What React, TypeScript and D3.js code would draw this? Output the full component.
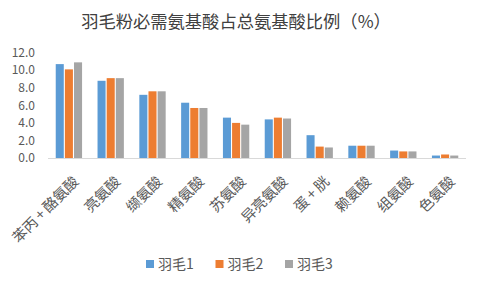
import React from 'react';
import * as d3 from 'd3';

const categories = ['苯丙+酪氨酸', '亮氨酸', '缬氨酸', '精氨酸', '苏氨酸', '异亮氨酸', '蛋+胱', '赖氨酸', '组氨酸', '色氨酸'];
const seriesNames = ['羽毛1', '羽毛2', '羽毛3'];
const feather1 = [10.7, 8.8, 7.2, 6.3, 4.6, 4.4, 2.6, 1.4, 0.85, 0.28];
const feather2 = [10.1, 9.1, 7.6, 5.7, 4.0, 4.6, 1.3, 1.4, 0.75, 0.4];
const feather3 = [10.9, 9.1, 7.6, 5.7, 3.8, 4.5, 1.2, 1.4, 0.75, 0.28];
const yTicks = [0, 2, 4, 6, 8, 10, 12];
const colors = ['#5B9BD5', '#ED7D31', '#A5A5A5'];

const W = 480;
const H = 288;
const font = '"Noto Sans CJK SC", "Noto Sans", sans-serif';

const App = () => {
  const series = [feather1, feather2, feather3];
  const margin = { left: 48, right: 14, top: 52.7, bottom: 130 };

  const x = d3.scaleBand<string>()
    .domain(categories)
    .range([margin.left, W - margin.right]);
  const groupW = x.bandwidth() * 0.63;
  const inner = d3.scaleBand<string>()
    .domain(seriesNames)
    .range([(x.bandwidth() - groupW) / 2, (x.bandwidth() + groupW) / 2])
    .paddingInner(0.12);
  const y = d3.scaleLinear().domain([0, 12]).range([H - margin.bottom, margin.top]);

  const legendX = d3.scalePoint<string>().domain(seriesNames).range([146, 285]);

  return (
    <svg width={W} height={H} style={{ position: 'absolute', left: 0, top: 0, background: '#fff' }}>
      <text x={236} y={28} textAnchor="middle" fontSize={17.3} fill="#404040" fontFamily={font}>
        羽毛粉必需氨基酸占总氨基酸比例（%）
      </text>
      {yTicks.map(t => (
        <text key={t} x={35} y={y(t)} dy="0.35em" textAnchor="end" fontSize={12} fill="#595959" fontFamily={font}>
          {t.toFixed(1)}
        </text>
      ))}
      {categories.map((c, i) => (
        <g key={c} transform={`translate(${x(c)},0)`}>
          {series.map((s, k) => (
            <rect
              key={k}
              x={inner(seriesNames[k])}
              y={y(s[i])}
              width={inner.bandwidth()}
              height={y(0) - y(s[i])}
              fill={colors[k]}
            />
          ))}
        </g>
      ))}
      <line x1={margin.left} x2={W - margin.right} y1={y(0) + 0.5} y2={y(0) + 0.5} stroke="#D9D9D9" strokeWidth={1} />
      {categories.map(c => (
        <text
          key={c}
          transform={`translate(${(x(c) as number) + x.bandwidth() / 2 + 7},${y(0) + 21}) rotate(-45)`}
          textAnchor="end"
          dy="0.35em"
          fontSize={14.5}
          fill="#595959"
          fontFamily={font}
        >
          {c.replace('+', '\u2009+\u2009')}
        </text>
      ))}
      {seriesNames.map((n, k) => (
        <g key={n} transform={`translate(${legendX(n)},264)`}>
          <rect x={0} y={-4} width={8} height={8} fill={colors[k]} />
          <text x={12} y={0} dy="0.35em" fontSize={14} fill="#595959" fontFamily={font}>{n}</text>
        </g>
      ))}
    </svg>
  );
};

export default App;
